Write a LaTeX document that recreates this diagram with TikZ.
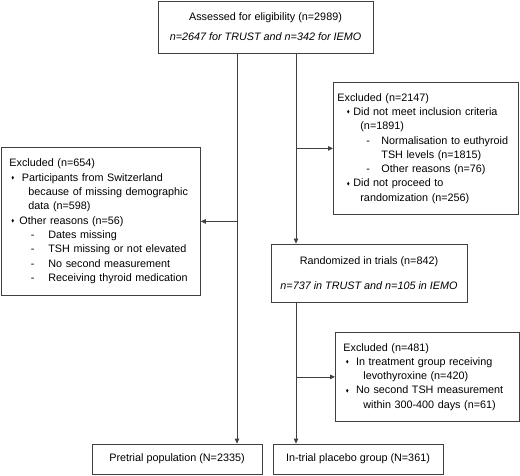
\documentclass[tikz,border=0pt]{standalone}
\usepackage{amssymb}
\usepackage{fontspec}
\setmainfont{Liberation Sans}
\usepackage{tikz}
\usetikzlibrary{arrows.meta}

\newcommand{\dm}{\raisebox{0.3ex}{\scalebox{0.42}{$\blacklozenge$}}}
\newcommand{\sk}[3]{\hspace*{#1}\makebox[#2][l]{#3}}

\begin{document}
\begin{tikzpicture}[x=1pt,y=-1pt,
		box/.style={draw=black!75,line width=0.8pt,inner sep=0pt,align=center,font=\fontsize{10.8}{14.3}\selectfont},
		lbox/.style={box,align=left,anchor=north west,inner xsep=8pt},
		arr/.style={draw=black!75,line width=0.8pt,-{Triangle[length=5pt,width=4.5pt]}}]
		\useasboundingbox (0,0) rectangle (520,476);
		
		\node[box,minimum width=215pt,minimum height=52pt] (assess) at (265.5,27)
		{Assessed for eligibility (n=2989)\\[5.7pt]\textit{n=2647 for TRUST and n=342 for IEMO}};
		
		\node[lbox,inner xsep=4pt,text width=177pt,minimum height=132pt] (excla) at (333,82)
		{Excluded (n=2147)\\
		\sk{9.5pt}{6.5pt}{\dm}Did not meet inclusion criteria\\
		\sk{23pt}{0pt}{}(n=1891)\\
		\sk{29pt}{15pt}{-}Normalisation to euthyroid\\
		\sk{44pt}{0pt}{}TSH levels (n=1815)\\
		\sk{29pt}{15pt}{-}Other reasons (n=76)\\
		\sk{9.5pt}{6.5pt}{\dm}Did not proceed to\\
		\sk{23pt}{0pt}{}randomization (n=256)};
		
		\node[lbox,text width=183pt,minimum height=148pt] (exclb) at (1,147)
		{Excluded (n=654)\\
		\sk{2pt}{10.5pt}{\dm}Participants from Switzerland\\
		\sk{19pt}{0pt}{}because of missing demographic\\
		\sk{19pt}{0pt}{}data (n=598)\\
		\sk{2pt}{8pt}{\dm}Other reasons (n=56)\\
		\sk{21.5pt}{17.5pt}{-}Dates missing\\
		\sk{21.5pt}{17.5pt}{-}TSH missing or not elevated\\
		\sk{21.5pt}{17.5pt}{-}No second measurement\\
		\sk{21.5pt}{17.5pt}{-}Receiving thyroid medication};
		
		\node[box,minimum width=196pt,minimum height=58pt] (rand) at (369,273)
		{Randomized in trials (n=842)\\[10.7pt]\textit{n=737 in TRUST and n=105 in IEMO}};
		
		\node[lbox,text width=168pt,minimum height=89pt] (exclc) at (335,332)
		{Excluded (n=481)\\
		\sk{2.4pt}{10.3pt}{\dm}In treatment group receiving\\
		\sk{20pt}{0pt}{}levothyroxine (n=420)\\
		\sk{2.4pt}{10.3pt}{\dm}No second TSH measurement\\
		\sk{20pt}{0pt}{}within 300-400 days (n=61)};
		
		\node[box,minimum width=170pt,minimum height=30pt] (pretrial) at (177,459) {Pretrial population (N=2335)};
		\node[box,minimum width=170pt,minimum height=30pt] (placebo) at (358,459) {In-trial placebo group (N=361)};
		
		\coordinate (sl) at (237,0);
		\coordinate (sr) at (296,0);
		
		\draw[arr] (assess.south -| sl) to (pretrial.north -| sl);
		\draw[arr] (sl |- exclb.east) to (exclb.east);
		\draw[arr] (assess.south -| sr) to (rand.north -| sr);
		\draw[arr] (sr |- excla.west) to (excla.west);
		\draw[arr] (rand.south -| sr) to (placebo.north -| sr);
		\draw[arr] (sr |- exclc.west) to (exclc.west);
	\end{tikzpicture}
\end{document}
